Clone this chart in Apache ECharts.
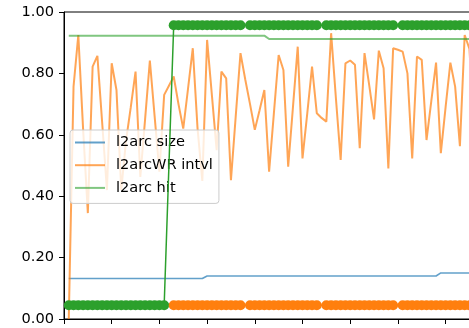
<!DOCTYPE html>
<html>
<head>
<meta charset="utf-8">
<script src="https://cdn.jsdelivr.net/npm/echarts@6/dist/echarts.min.js"></script>
<style>
html,body{margin:0;padding:0;background:#fff;}
#c{width:469px;height:328px;}
</style>
</head>
<body>
<div id="c"></div>
<script>
// sample index (1..86)
const yTicks = ['0.00','0.20','0.40','0.60','0.80','1.00'];
const seriesNames = ['l2arc size','l2arcWR intvl','l2arc hit'];

const l2arcSize = [
0.132,0.132,0.132,0.132,0.132,0.132,0.132,0.132,0.132,0.132,
0.132,0.132,0.132,0.132,0.132,0.132,0.132,0.132,0.132,0.132,
0.132,0.132,0.132,0.132,0.132,0.132,0.132,0.132,0.132,0.140,
0.140,0.140,0.140,0.140,0.140,0.140,0.140,0.140,0.140,0.140,
0.140,0.140,0.140,0.140,0.140,0.140,0.140,0.140,0.140,0.140,
0.140,0.140,0.140,0.140,0.140,0.140,0.140,0.140,0.140,0.140,
0.140,0.140,0.140,0.140,0.140,0.140,0.140,0.140,0.140,0.140,
0.140,0.140,0.140,0.140,0.140,0.140,0.140,0.140,0.150,0.150,
0.150,0.150,0.150,0.150,0.150,0.150];

const l2arcWR = [
0.00,0.757,0.925,0.62,0.345,0.822,0.857,0.64,0.42,0.833,
0.746,0.42,0.58,0.69,0.806,0.463,0.65,0.842,0.66,0.48,
0.73,0.76,0.79,0.70,0.62,0.75,0.882,0.62,0.45,0.909,
0.73,0.55,0.806,0.784,0.452,0.66,0.866,0.78,0.70,0.616,
0.68,0.746,0.48,0.67,0.86,0.811,0.496,0.69,0.887,0.523,
0.67,0.822,0.67,0.655,0.643,0.931,0.72,0.518,0.833,0.842,
0.828,0.556,0.866,0.76,0.65,0.874,0.817,0.49,0.882,0.877,
0.871,0.80,0.523,0.855,0.844,0.583,0.71,0.835,0.54,0.69,
0.835,0.757,0.563,0.925,0.88,0.60];

const l2arcHit = [
0.923,0.923,0.923,0.923,0.923,0.923,0.923,0.923,0.923,0.923,
0.923,0.923,0.923,0.923,0.923,0.923,0.923,0.923,0.923,0.923,
0.923,0.923,0.923,0.923,0.923,0.923,0.923,0.923,0.923,0.923,
0.923,0.923,0.923,0.923,0.923,0.923,0.923,0.923,0.923,0.923,
0.923,0.923,0.912,0.912,0.912,0.912,0.912,0.912,0.912,0.912,
0.912,0.912,0.912,0.912,0.912,0.912,0.912,0.912,0.912,0.912,
0.912,0.912,0.912,0.912,0.912,0.912,0.912,0.912,0.912,0.912,
0.912,0.912,0.912,0.912,0.912,0.912,0.912,0.912,0.912,0.912,
0.912,0.912,0.912,0.912,0.912,0.912];

const hitMark = [
0.045,0.045,0.045,0.045,0.045,0.045,0.045,0.045,0.045,0.045,
0.045,0.045,0.045,0.045,0.045,0.045,0.045,0.045,0.045,0.045,
0.045,null,0.957,0.957,0.957,0.957,0.957,0.957,0.957,0.957,
0.957,0.957,0.957,0.957,0.957,0.957,0.957,null,0.957,0.957,
0.957,0.957,0.957,0.957,0.957,0.957,0.957,0.957,0.957,0.957,
0.957,0.957,0.957,null,0.957,0.957,0.957,0.957,0.957,0.957,
0.957,0.957,0.957,0.957,0.957,0.957,0.957,0.957,0.957,null,
0.957,0.957,0.957,0.957,0.957,0.957,0.957,0.957,0.957,0.957,
0.957,0.957,0.957,0.957,0.957,0.957];

const wrMark = [
null,null,null,null,null,null,null,null,null,null,
null,null,null,null,null,null,null,null,null,null,
null,null,0.045,0.045,0.045,0.045,0.045,0.045,0.045,0.045,
0.045,0.045,0.045,0.045,0.045,0.045,0.045,null,0.045,0.045,
0.045,0.045,0.045,0.045,0.045,0.045,0.045,0.045,0.045,0.045,
0.045,0.045,0.045,null,0.045,0.045,0.045,0.045,0.045,0.045,
0.045,0.045,0.045,0.045,0.045,0.045,0.045,0.045,0.045,null,
0.045,0.045,0.045,0.045,0.045,0.045,0.045,0.045,0.045,0.045,
0.045,0.045,0.045,0.045,0.045,0.045];

const toPairs = arr => arr.map((v, i) => [i + 1, v]);
const FONT = 'DejaVu Sans';
const C_BLUE = 'rgba(31,119,180,0.7)';
const C_ORANGE = 'rgba(255,127,14,0.7)';
const C_GREEN = 'rgba(44,160,44,0.6)';

const chart = echarts.init(document.getElementById('c'), null, {renderer: 'canvas'});
chart.setOption({
  animation: false,
  backgroundColor: '#fff',
  grid: {left: 64, top: 12, bottom: 9, width: 477, outerBoundsMode: 'none', containLabel: false,
    show: true, borderColor: '#000', borderWidth: 1, backgroundColor: 'transparent'},
  xAxis: {
    type: 'value', min: 0, max: 100, interval: 10,
    axisLine: {show: true, lineStyle: {color: '#000', width: 1}},
    axisTick: {show: true, length: 5, lineStyle: {color: '#000', width: 1}},
    axisLabel: {show: false},
    splitLine: {show: false}
  },
  yAxis: {
    type: 'value', min: 0, max: 1, interval: 0.2,
    axisLine: {show: true, lineStyle: {color: '#000', width: 1}},
    axisTick: {show: true, length: 5, lineStyle: {color: '#000', width: 1}},
    axisLabel: {color: '#000', fontFamily: FONT, fontSize: 14.6, margin: 10,
      formatter: v => yTicks[Math.round(v / 0.2)]},
    splitLine: {show: false}
  },
  legend: {
    left: 70, top: 130, orient: 'vertical',
    data: [
      {name: seriesNames[0], icon: 'rect', itemStyle: {color: C_BLUE}},
      {name: seriesNames[1], icon: 'rect', itemStyle: {color: C_ORANGE}},
      {name: seriesNames[2], icon: 'rect', itemStyle: {color: C_GREEN}}
    ],
    itemWidth: 30, itemHeight: 2, itemGap: 7.7,
    padding: [5, 6, 8, 5],
    backgroundColor: 'rgba(255,255,255,0.8)',
    borderColor: '#cccccc', borderWidth: 1, borderRadius: 3,
    textStyle: {fontFamily: FONT, fontSize: 14.6, color: '#000', lineHeight: 14, padding: [0, 0, 0, 6]},
    z: 4
  },
  series: [
    {name: seriesNames[0], type: 'line', data: toPairs(l2arcSize), symbol: 'none',
      lineStyle: {color: C_BLUE, width: 1.6}, itemStyle: {color: C_BLUE}, z: 2},
    {name: seriesNames[1], type: 'line', data: toPairs(l2arcWR), symbol: 'none',
      lineStyle: {color: C_ORANGE, width: 2}, itemStyle: {color: C_ORANGE}, z: 2},
    {name: seriesNames[2], type: 'line', data: toPairs(l2arcHit), symbol: 'none',
      lineStyle: {color: C_GREEN, width: 2}, itemStyle: {color: C_GREEN}, z: 2},
    {name: 'hitMark', type: 'line', data: toPairs(hitMark), connectNulls: true,
      symbol: 'circle', symbolSize: 10, showSymbol: true, showAllSymbol: true,
      lineStyle: {color: '#2ca02c', width: 1.5}, itemStyle: {color: '#2ca02c'}, z: 10},
    {name: 'wrMark', type: 'line', data: toPairs(wrMark), connectNulls: true,
      symbol: 'circle', symbolSize: 10, showSymbol: true, showAllSymbol: true,
      lineStyle: {color: '#ff7f0e', width: 1.5}, itemStyle: {color: '#ff7f0e'}, z: 10}
  ]
});
</script>
</body>
</html>
